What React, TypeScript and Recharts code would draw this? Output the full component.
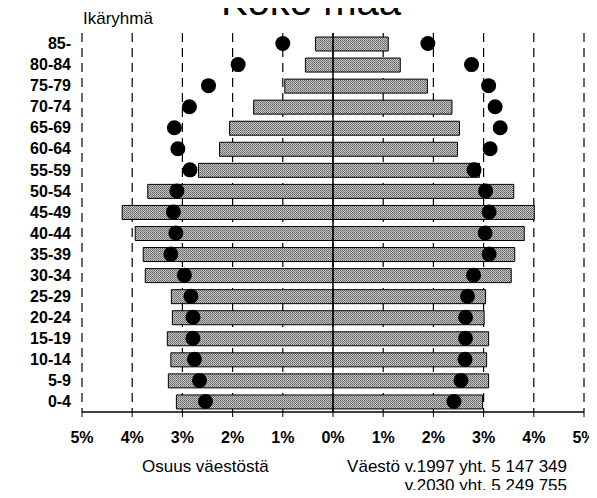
import { Bar, CartesianGrid, ComposedChart, Line, ReferenceLine, XAxis, YAxis } from 'recharts';

const ageGroups = ['85-', '80-84', '75-79', '70-74', '65-69', '60-64', '55-59', '50-54', '45-49',
  '40-44', '35-39', '30-34', '25-29', '20-24', '15-19', '10-14', '5-9', '0-4'];

// osuus väestöstä (%), miehet vasemmalla, naiset oikealla
const men1997 = [0.35, 0.55, 0.96, 1.58, 2.06, 2.26, 2.68, 3.69, 4.2, 3.94, 3.78, 3.74, 3.22, 3.2, 3.3, 3.23, 3.28, 3.12];
const women1997 = [1.1, 1.34, 1.88, 2.37, 2.52, 2.48, 2.92, 3.6, 4.01, 3.81, 3.62, 3.55, 3.04, 3.01, 3.1, 3.06, 3.1, 2.98];
const men2030 = [1.0, 1.89, 2.48, 2.86, 3.16, 3.09, 2.85, 3.11, 3.18, 3.13, 3.23, 2.96, 2.83, 2.79, 2.79, 2.76, 2.66, 2.54];
const women2030 = [1.89, 2.76, 3.1, 3.23, 3.33, 3.13, 2.81, 3.04, 3.11, 3.03, 3.11, 2.8, 2.68, 2.64, 2.64, 2.63, 2.55, 2.41];

const xTicks = [-5, -4, -3, -2, -1, 0, 1, 2, 3, 4, 5];

const data = ageGroups.map((age, i) => ({
  age,
  men: -men1997[i],
  women: women1997[i],
  men30: -men2030[i],
  women30: women2030[i],
}));

const font = '"Liberation Sans", Arial, Helvetica, sans-serif';
const tickStyle = { fill: '#000', fontSize: 16, fontWeight: 'bold', fontFamily: font };

export default function App() {
  return (
    <div style={{ margin: -8, position: 'relative', width: 597, height: 498, background: '#fff', fontFamily: font, overflow: 'hidden' }}>
      <ComposedChart
        width={597}
        height={498}
        data={data}
        layout="vertical"
        stackOffset="sign"
        margin={{ top: 33, right: 13, bottom: 0, left: 0 }}
      >
        <defs>
          <pattern id="dither" width="2" height="2" patternUnits="userSpaceOnUse">
            <rect width="2" height="2" fill="#c4c4c4" />
            <rect x="0" y="0" width="1" height="1" fill="#666" />
            <rect x="1" y="1" width="1" height="1" fill="#7a7a7a" />
          </pattern>
        </defs>
        <CartesianGrid horizontal={false} stroke="#000" strokeWidth={1.2} strokeDasharray="9 6" />
        <XAxis
          type="number"
          domain={[-5, 5]}
          ticks={xTicks}
          tickFormatter={(v: number) => `${Math.abs(v)}%`}
          height={86}
          tickSize={5}
          tickMargin={15}
          axisLine={{ stroke: '#000', strokeWidth: 1.5 }}
          tickLine={{ stroke: '#000' }}
          tick={tickStyle}
        />
        <XAxis xAxisId="top" orientation="top" type="number" domain={[-5, 5]} height={0} tick={false} tickLine={false}
          axisLine={{ stroke: '#000', strokeWidth: 1.5 }} />
        <YAxis
          type="category"
          dataKey="age"
          width={82}
          tickSize={0}
          tickMargin={11}
          axisLine={false}
          tick={tickStyle}
          interval={0}
        />
        <Bar dataKey="men" stackId="a" barSize={14} fill="url(#dither)" stroke="#000" strokeWidth={1} isAnimationActive={false} />
        <Bar dataKey="women" stackId="a" barSize={14} fill="url(#dither)" stroke="#000" strokeWidth={1} isAnimationActive={false} />
        <ReferenceLine x={0} stroke="#000" strokeWidth={1.5} />
        <Line dataKey="men30" stroke="none" dot={{ r: 7.5, fill: '#000', stroke: 'none' }} activeDot={false} isAnimationActive={false} />
        <Line dataKey="women30" stroke="none" dot={{ r: 7.5, fill: '#000', stroke: 'none' }} activeDot={false} isAnimationActive={false} />
      </ComposedChart>
      <div style={{ position: 'absolute', left: 0, width: 622, top: -22, textAlign: 'center', fontSize: 40, lineHeight: '46px' }}>Koko maa</div>
      <div style={{ position: 'absolute', left: 83, top: 9, fontSize: 17, lineHeight: '20px' }}>Ikäryhmä</div>
      <div style={{ position: 'absolute', left: 142, top: 457, fontSize: 17, lineHeight: '19px' }}>Osuus väestöstä</div>
      <div style={{ position: 'absolute', right: 30, top: 457, fontSize: 17, lineHeight: '19px', textAlign: 'right' }}>
        Väestö v.1997 yht. 5 147 349
        <br />
        v.2030 yht. 5 249 755
      </div>
    </div>
  );
}
